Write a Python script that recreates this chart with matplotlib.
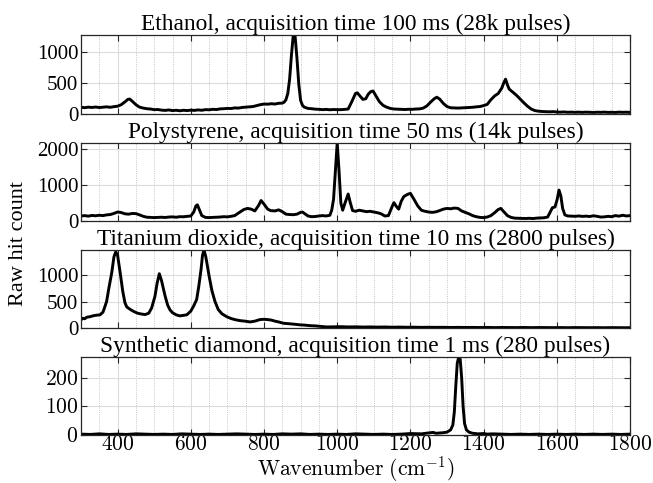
import matplotlib
matplotlib.use("Agg")
import matplotlib.pyplot as plt
from matplotlib.ticker import MultipleLocator, FixedLocator, FixedFormatter
import numpy as np

plt.rcParams['font.family'] = ['Liberation Serif', 'DejaVu Serif']
plt.rcParams['mathtext.fontset'] = 'cm'

# ---------------- data ----------------
titles = [
    "Ethanol, acquisition time 100 ms (28k pulses)",
    "Polystyrene, acquisition time 50 ms (14k pulses)",
    "Titanium dioxide, acquisition time 10 ms (2800 pulses)",
    "Synthetic diamond, acquisition time 1 ms (280 pulses)",
]

ethanol_w = [300, 310, 320, 330, 340, 350, 360, 370, 380, 390, 400, 410, 420, 428, 433, 440, 450, 460, 470, 480,
             490, 500, 510, 520, 530, 540, 550, 560, 570, 580, 590, 600, 610, 620, 630, 640, 650, 660, 670, 680,
             690, 700, 710, 720, 730, 740, 750, 760, 770, 780, 790, 800, 810, 820, 830, 840, 850, 855, 860, 865,
             870, 875, 880, 885, 890, 895, 900, 905, 910, 920, 930, 940, 950, 960, 970, 980, 990, 1000, 1010, 1020,
             1030, 1040, 1050, 1055, 1062, 1070, 1078, 1085, 1092, 1098, 1105, 1115, 1125, 1135, 1145, 1155, 1165,
             1175, 1185, 1195, 1205, 1215, 1225, 1235, 1245, 1255, 1265, 1272, 1280, 1290, 1300, 1310, 1320, 1330,
             1340, 1350, 1360, 1370, 1380, 1390, 1400, 1410, 1420, 1430, 1440, 1450, 1455, 1460, 1465, 1470, 1480,
             1490, 1500, 1510, 1520, 1530, 1540, 1550, 1560, 1570, 1580, 1590, 1600, 1610, 1620, 1630, 1640, 1650,
             1660, 1670, 1680, 1690, 1700, 1710, 1720, 1730, 1740, 1750, 1760, 1770, 1780, 1790, 1800]
ethanol_v = [108, 102, 110, 105, 112, 104, 110, 115, 108, 118, 125, 150, 195, 235, 240, 205, 150, 110, 95, 85,
             80, 70, 72, 62, 58, 65, 55, 60, 52, 60, 55, 62, 58, 66, 60, 70, 68, 75, 72, 82,
             85, 90, 88, 98, 95, 105, 110, 115, 120, 135, 150, 160, 158, 165, 160, 172, 175, 190, 230, 330,
             560, 950, 1270, 1250, 900, 480, 220, 140, 110, 90, 85, 78, 75, 70, 74, 68, 72, 70, 70, 74,
             80, 200, 330, 340, 290, 235, 245, 320, 360, 370, 300, 200, 140, 110, 90, 80, 78,
             75, 72, 76, 75, 80, 82, 95, 130, 190, 245, 270, 240, 170, 120, 100, 98, 95,
             98, 100, 105, 108, 115, 120, 135, 155, 230, 290, 330, 420, 500, 560, 470, 400, 350,
             300, 240, 180, 125, 80, 55, 45, 40, 38, 35, 38, 32, 30, 33, 28, 30, 27,
             30, 26, 30, 28, 25, 29, 27, 30, 26, 28, 25, 30, 27, 29, 26]

poly_w = [300, 310, 320, 330, 340, 350, 360, 370, 380, 390, 400, 410, 420, 430, 440, 450, 460, 470, 480, 490,
          500, 510, 520, 530, 540, 550, 560, 570, 580, 590, 600, 608, 614, 618, 624, 630, 640, 650, 660, 670,
          680, 690, 700, 710, 720, 730, 745, 755, 765, 775, 785, 792, 800, 810, 818, 830, 840, 850, 860, 870,
          880, 890, 900, 905, 912, 920, 930, 940, 950, 960, 970, 980, 985, 990, 995, 1000, 1005, 1010, 1015, 1022,
          1030, 1036, 1042, 1050, 1060, 1070, 1080, 1090, 1100, 1110, 1120, 1130, 1140, 1150, 1155, 1162, 1168,
          1175, 1182, 1192, 1200, 1210, 1220, 1230, 1240, 1250, 1260, 1270, 1280, 1290, 1300, 1310, 1320, 1330,
          1340, 1350, 1360, 1370, 1380, 1390, 1400, 1410, 1420, 1430, 1440, 1447, 1455, 1465, 1475, 1485, 1495,
          1505, 1515, 1525, 1535, 1545, 1555, 1565, 1575, 1582, 1588, 1595, 1601, 1606, 1611, 1616, 1622, 1630,
          1640, 1650, 1660, 1670, 1680, 1690, 1700, 1710, 1720, 1730, 1740, 1750, 1760, 1770, 1780, 1790, 1800]
poly_v = [140, 150, 135, 155, 145, 160, 150, 170, 180, 210, 250, 235, 200, 190, 210, 205, 170, 130, 105, 100,
          95, 100, 105, 98, 110, 115, 105, 120, 118, 130, 140, 250, 420, 450, 300, 150, 100, 95, 100, 105,
          110, 120, 115, 130, 150, 220, 320, 350, 330, 280, 430, 570, 470, 330, 290, 280, 310, 260, 190, 180,
          175, 190, 240, 250, 200, 140, 120, 125, 140, 150, 140, 160, 300, 600, 1400, 2170, 1400, 500, 300, 520,
          750, 500, 290, 270, 300, 280, 260, 270, 250, 230, 200, 140, 150, 400, 510, 400, 330,
          550, 680, 740, 770, 600, 420, 300, 270, 250, 240, 255, 290, 330, 350, 340, 360, 350,
          280, 240, 200, 150, 120, 100, 95, 110, 150, 230, 320, 350, 260, 150, 100, 80, 75,
          72, 70, 75, 68, 80, 85, 90, 110, 250, 370, 390, 600, 860, 700, 350, 170, 140,
          135, 130, 140, 128, 135, 125, 145, 130, 110, 115, 130, 120, 150, 135, 160, 140, 150]

tio2_w = [300, 305, 310, 316, 325, 335, 345, 352, 360, 365, 370, 376, 384, 390, 395, 400, 407, 414, 420, 425,
          435, 445, 455, 465, 475, 485, 493, 502, 508, 514, 520, 530, 537, 543, 550, 560, 570, 580, 589, 600,
          608, 616, 622, 628, 632, 636, 641, 646, 650, 658, 666, 675, 685, 698, 710, 720, 734, 748, 762, 775,
          789, 800, 810, 820, 830, 840, 853, 870, 885, 898, 910, 925, 940, 955, 971, 990, 1010, 1030, 1050, 1070,
          1090, 1110, 1130, 1150, 1170, 1190, 1210, 1230, 1250, 1270, 1290, 1310, 1330, 1350, 1370, 1390, 1410,
          1430, 1450, 1470, 1490, 1510, 1530, 1550, 1570, 1590, 1610, 1630, 1650, 1670, 1690, 1710, 1730, 1750,
          1770, 1790, 1800]
tio2_v = [155, 185, 175, 205, 215, 235, 245, 250, 300, 400, 505, 750, 1050, 1350, 1445, 1380, 1050, 700, 480, 400,
          350, 310, 280, 265, 255, 280, 380, 600, 850, 1030, 900, 600, 430, 345, 290, 250, 230, 240, 250, 320,
          420, 540, 800, 1110, 1380, 1480, 1350, 1150, 985, 700, 505, 350, 270, 215, 180, 160, 140, 130, 115, 130,
          160, 165, 160, 150, 130, 115, 90, 80, 70, 60, 55, 45, 40, 30, 20, 22, 25, 20, 22, 18,
          20, 17, 19, 15, 17, 14, 15, 12, 14, 12, 13, 10, 12, 10, 11, 9, 11,
          8, 10, 9, 8, 10, 7, 9, 8, 7, 8, 6, 8, 7, 6, 7, 5, 7,
          6, 5, 6]

diamond_w = [300, 325, 350, 375, 400, 425, 450, 475, 500, 525, 550, 575, 600, 625, 650, 675, 700, 725, 750, 775,
             800, 825, 850, 875, 900, 925, 950, 975, 1000, 1025, 1050, 1075, 1100, 1125, 1150, 1175, 1200, 1230,
             1255, 1262, 1270, 1290, 1300, 1310, 1316, 1320, 1324, 1328, 1332, 1336, 1340, 1344, 1348, 1353, 1360,
             1370, 1385, 1400, 1410, 1425, 1450, 1475, 1500, 1525, 1550, 1575, 1600, 1625, 1650, 1675, 1700, 1725,
             1750, 1775, 1800]
diamond_v = [3, 2, 4, 2, 3, 2, 4, 3, 2, 3, 2, 4, 3, 2, 3, 2, 3, 4, 3, 2,
             3, 2, 4, 3, 4, 2, 3, 2, 3, 2, 4, 3, 2, 3, 2, 3, 5, 4,
             8, 9, 6, 8, 10, 18, 35, 80, 170, 250, 272, 265, 200, 100, 40, 18, 10,
             6, 4, 5, 3, 4, 3, 2, 3, 2, 3, 2, 3, 2, 3, 2, 3, 2,
             3, 2, 3]

spectra = [(ethanol_w, ethanol_v), (poly_w, poly_v), (tio2_w, tio2_v), (diamond_w, diamond_v)]
yticks = [[0, 500, 1000], [0, 1000, 2000], [0, 500, 1000], [0, 100, 200]]
xticks = [400, 600, 800, 1000, 1200, 1400, 1600, 1800]
xlabel = r'$\mathrm{Wavenumber\ (cm^{-1})}$'
ylabel = "Raw hit count"

# ---------------- layout ----------------
W, H = 653, 483
fig = plt.figure(figsize=(W / 100, H / 100), dpi=100)
left_px, right_px = 81, 630
panels_px = [(35, 114), (143, 221), (250, 328), (357, 435)]
frame_col = '#262626'

for i, ((wv, vals), (top, bot)) in enumerate(zip(spectra, panels_px)):
    ax = fig.add_axes([left_px / W, 1 - bot / H, (right_px - left_px) / W, (bot - top) / H])
    ax.plot(wv, vals, color='black', lw=2.1, solid_joinstyle='round')
    ax.set_xlim(300, 1800)
    ax.set_ylim(0, max(vals))
    ax.xaxis.set_major_locator(FixedLocator(xticks))
    ax.xaxis.set_minor_locator(MultipleLocator(50))
    ax.yaxis.set_major_locator(FixedLocator(yticks[i]))
    ax.grid(which='major', axis='both', color='#dcdcdc', lw=0.8, ls='-')
    ax.grid(which='minor', axis='x', color='#bdbdbd', lw=0.6, ls=(0, (1.2, 1.5)))
    ax.set_axisbelow(True)
    ax.tick_params(which='major', direction='in', length=4, width=0.8, top=True, right=True,
                   colors=frame_col, labelcolor='black', labelsize=15, pad=2)
    ax.tick_params(which='minor', length=0, top=True, right=True)
    for s in ax.spines.values():
        s.set_color(frame_col)
        s.set_linewidth(0.9)
    ax.set_title(titles[i], fontsize=16.8, pad=3)
    if i < 3:
        ax.set_xticklabels([])
    else:
        ax.xaxis.set_major_formatter(FixedFormatter([r'$%d$' % t for t in xticks]))
        ax.yaxis.set_major_formatter(FixedFormatter([r'$%d$' % t for t in yticks[i]]))
        ax.tick_params(labelsize=15.5)
        ax.tick_params(axis='x', pad=1)
        ax.set_xlabel(xlabel, fontsize=15.5, labelpad=-1)

fig.text(19 / W, 1 - 244 / H, ylabel, rotation=90, ha='center', va='center', fontsize=16)

fig.savefig('out.png', dpi=100)
